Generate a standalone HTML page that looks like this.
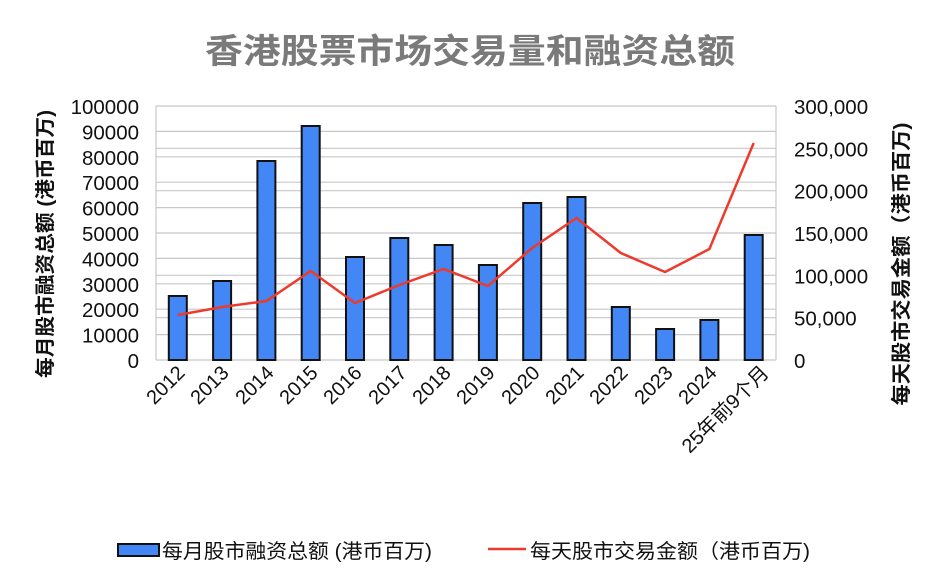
<!DOCTYPE html>
<html><head><meta charset="utf-8"><style>body{margin:0;background:#fff}svg{display:block}text{font-family:"Liberation Sans","Noto Sans CJK SC",sans-serif}</style></head><body>
<svg width="938" height="581" xmlns="http://www.w3.org/2000/svg">
<text x="470" y="63" font-size="34" font-weight="bold" fill="#7a7a7a" text-anchor="middle" textLength="530" lengthAdjust="spacingAndGlyphs">香港股票市场交易量和融资总额</text>
<g stroke="#c8c8c8" stroke-width="1.2">
<line x1="156" x2="776" y1="106" y2="106"/><line x1="156" x2="776" y1="131.4" y2="131.4"/><line x1="156" x2="776" y1="156.8" y2="156.8"/><line x1="156" x2="776" y1="182.2" y2="182.2"/><line x1="156" x2="776" y1="207.6" y2="207.6"/><line x1="156" x2="776" y1="233" y2="233"/><line x1="156" x2="776" y1="258.4" y2="258.4"/><line x1="156" x2="776" y1="283.8" y2="283.8"/><line x1="156" x2="776" y1="309.2" y2="309.2"/><line x1="156" x2="776" y1="334.6" y2="334.6"/>
<line x1="156" x2="776" y1="148.3" y2="148.3"/><line x1="156" x2="776" y1="190.7" y2="190.7"/><line x1="156" x2="776" y1="275.3" y2="275.3"/><line x1="156" x2="776" y1="317.7" y2="317.7"/>
<line x1="156" x2="156" y1="106" y2="360"/><line x1="776" x2="776" y1="106" y2="360"/><line x1="156" x2="776" y1="360" y2="360"/>
</g>
<g fill="#4287f5" stroke="#111" stroke-width="2">
<rect x="168.8" y="296" width="18" height="64"/><rect x="213.1" y="281" width="18" height="79"/><rect x="257.4" y="161" width="18" height="199"/><rect x="301.7" y="126" width="18" height="234"/><rect x="346" y="257" width="18" height="103"/><rect x="390.3" y="238" width="18" height="122"/><rect x="434.6" y="245" width="18" height="115"/><rect x="478.9" y="265" width="18" height="95"/><rect x="523.2" y="203" width="18" height="157"/><rect x="567.5" y="197" width="18" height="163"/><rect x="611.8" y="307" width="18" height="53"/><rect x="656.1" y="329" width="18" height="31"/><rect x="700.4" y="320" width="18" height="40"/><rect x="744.7" y="235" width="18" height="125"/>
</g>
<polyline fill="none" stroke="#ee3a2c" stroke-width="2.5" points="177.8,315 222.1,307 266.4,301 310.7,271 355,303 399.3,285 443.6,269 487.9,286 532.2,248 576.5,218 620.8,253 665.1,272 709.4,249 753.7,143"/>
<g font-size="20.5" fill="#111" text-anchor="end">
<text x="139" y="114">100000</text><text x="139" y="139.4">90000</text><text x="139" y="164.8">80000</text><text x="139" y="190.2">70000</text><text x="139" y="215.6">60000</text><text x="139" y="241">50000</text><text x="139" y="266.4">40000</text><text x="139" y="291.8">30000</text><text x="139" y="317.2">20000</text><text x="139" y="342.6">10000</text><text x="139" y="368">0</text>
</g>
<g font-size="20.5" fill="#111" text-anchor="start">
<text x="794" y="114">300,000</text><text x="794" y="156.3">250,000</text><text x="794" y="198.7">200,000</text><text x="794" y="241">150,000</text><text x="794" y="283.3">100,000</text><text x="794" y="325.7">50,000</text><text x="794" y="368">0</text>
</g>
<text transform="translate(52,244) rotate(-90)" font-size="20" font-weight="bold" fill="#111" text-anchor="middle" textLength="268" lengthAdjust="spacingAndGlyphs">每月股市融资总额 (港币百万)</text>
<text transform="translate(908,264) rotate(-90)" font-size="20" font-weight="bold" fill="#111" text-anchor="middle" textLength="283" lengthAdjust="spacingAndGlyphs">每天股市交易金额（港币百万)</text>
<g font-size="20" fill="#111" text-anchor="end">
<text transform="translate(186,374) rotate(-45)">2012</text><text transform="translate(230,374) rotate(-45)">2013</text><text transform="translate(275,374) rotate(-45)">2014</text><text transform="translate(319,374) rotate(-45)">2015</text><text transform="translate(363,374) rotate(-45)">2016</text><text transform="translate(408,374) rotate(-45)">2017</text><text transform="translate(452,374) rotate(-45)">2018</text><text transform="translate(496,374) rotate(-45)">2019</text><text transform="translate(541,374) rotate(-45)">2020</text><text transform="translate(585,374) rotate(-45)">2021</text><text transform="translate(629,374) rotate(-45)">2022</text><text transform="translate(674,374) rotate(-45)">2023</text><text transform="translate(718,374) rotate(-45)">2024</text><text transform="translate(770,374) rotate(-45)">25年前9个月</text>
</g>
<rect x="118" y="544" width="41" height="12" fill="#4287f5" stroke="#111" stroke-width="2"/>
<text x="162" y="558" font-size="20" fill="#111" textLength="270" lengthAdjust="spacingAndGlyphs">每月股市融资总额 (港币百万)</text>
<line x1="488" x2="526" y1="549" y2="549" stroke="#ee3a2c" stroke-width="2.5"/>
<text x="530" y="558" font-size="20" fill="#111" textLength="280" lengthAdjust="spacingAndGlyphs">每天股市交易金额（港币百万)</text>
</svg>
</body></html>
